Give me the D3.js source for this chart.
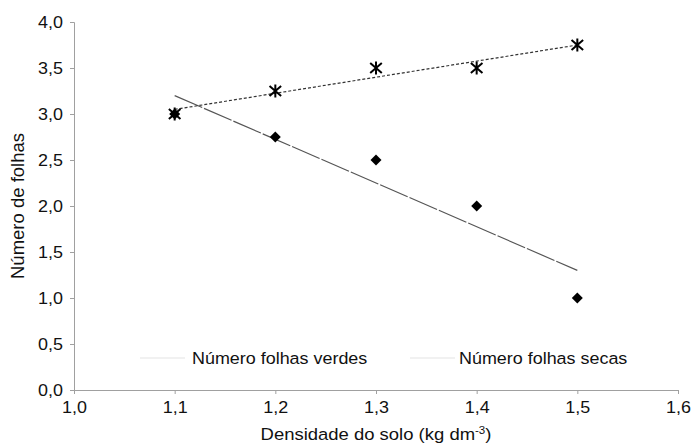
<!DOCTYPE html>
<html><head><meta charset="utf-8">
<script src="https://cdn.jsdelivr.net/npm/d3@7/dist/d3.min.js"></script>
<style>body{margin:0;background:#fff}svg{display:block}text{font-family:"Liberation Sans",Arial,sans-serif}</style>
</head><body>
<svg id="c" width="694" height="445"></svg>
<script>
const densidade = [1.1, 1.2, 1.3, 1.4, 1.5];
const folhasVerdes = [3.0, 2.75, 2.5, 2.0, 1.0];
const folhasSecas = [3.0, 3.25, 3.5, 3.5, 3.75];
const xTicks = [1.0, 1.1, 1.2, 1.3, 1.4, 1.5, 1.6];
const yTicks = [0, 0.5, 1.0, 1.5, 2.0, 2.5, 3.0, 3.5, 4.0];
const seriesNames = ["Número folhas verdes", "Número folhas secas"];

const svg = d3.select("#c");
const x = d3.scaleLinear().domain([1.0, 1.6]).range([74, 678]);
const y = d3.scaleLinear().domain([0, 4]).range([390, 22]);
const fmt = d => d3.format(".1f")(d).replace(".", ",");
const SX = 1.1; // horizontal stretch of glyphs in the reference

const xAxis = svg.append("g").attr("transform", "translate(0,390)")
  .call(d3.axisBottom(x).tickValues(xTicks).tickFormat(fmt).tickSize(4).tickPadding(7));
const yAxis = svg.append("g").attr("transform", "translate(74,0)")
  .call(d3.axisLeft(y).tickValues(yTicks).tickFormat(fmt).tickSize(4).tickPadding(7));
[xAxis, yAxis].forEach(a => {
  a.selectAll("path,line").attr("stroke", "#a0a0a0");
  a.selectAll("text").attr("font-size", 16.3).attr("fill", "#111")
    .attr("transform", `scale(${SX},1)`);
});
yAxis.selectAll("text").attr("x", -11 / SX);

function fit(xs, ys) {
  const mx = d3.mean(xs), my = d3.mean(ys);
  const b = d3.sum(xs, (v, i) => (v - mx) * (ys[i] - my)) / d3.sum(xs, v => (v - mx) ** 2);
  return v => my + b * (v - mx);
}
const fV = fit(densidade, folhasVerdes), fS = fit(densidade, folhasSecas);
const x0 = d3.min(densidade), x1 = d3.max(densidade);

svg.append("line").attr("x1", x(x0)).attr("y1", y(fV(x0))).attr("x2", x(x1)).attr("y2", y(fV(x1)))
  .attr("stroke", "#555").attr("stroke-width", 1.2).attr("stroke-dasharray", "30,2");
svg.append("line").attr("x1", x(x0)).attr("y1", y(fS(x0))).attr("x2", x(x1)).attr("y2", y(fS(x1)))
  .attr("stroke", "#333").attr("stroke-width", 1.2).attr("stroke-dasharray", "3,2");

svg.selectAll(".dv").data(densidade).join("path").attr("class", "dv")
  .attr("transform", (d, i) => `translate(${x(d)},${y(folhasVerdes[i])})`)
  .attr("d", "M0,-5.5L5.5,0L0,5.5L-5.5,0Z").attr("fill", "#000");

svg.selectAll(".ds").data(densidade).join("path").attr("class", "ds")
  .attr("transform", (d, i) => `translate(${x(d)},${y(folhasSecas[i])})`)
  .attr("d", "M0,-6.5V6.5M-5.8,-5L5.8,5M-5.8,5L5.8,-5")
  .attr("stroke", "#000").attr("stroke-width", 2).attr("fill", "none");

// legend
const leg = [{x: 140, tx: 192}, {x: 410, tx: 459}];
leg.forEach((l, i) => {
  svg.append("line").attr("x1", l.x).attr("x2", l.x + 45).attr("y1", 358).attr("y2", 358)
    .attr("stroke", "#ececec").attr("stroke-width", 1.5);
  svg.append("text").attr("transform", `translate(${l.tx},364) scale(${SX},1)`)
    .attr("font-size", 16.3).attr("fill", "#111").text(seriesNames[i]);
});

svg.append("text").attr("transform", "translate(24,206) rotate(-90)").attr("text-anchor", "middle")
  .attr("font-size", 18.5).attr("fill", "#111").text("Número de folhas");
const xt = svg.append("text").attr("transform", `translate(376,440) scale(${SX},1)`).attr("text-anchor", "middle")
  .attr("font-size", 16.8).attr("fill", "#111");
xt.append("tspan").text("Densidade do solo (kg dm");
xt.append("tspan").attr("font-size", 10.5).attr("dy", -6).text("-3");
xt.append("tspan").attr("dy", 6).text(")");
</script>
</body></html>
